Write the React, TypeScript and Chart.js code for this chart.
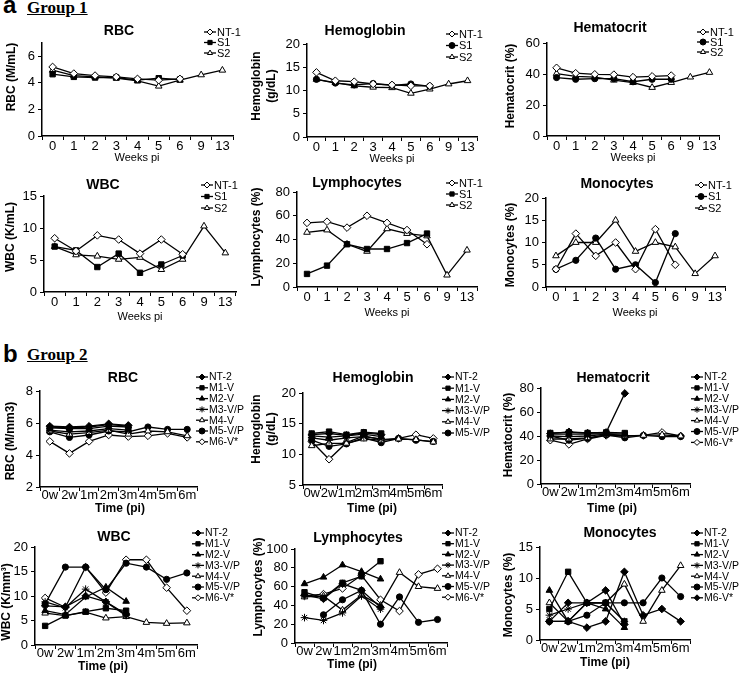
import React, { useEffect, useRef } from 'react';
import { Chart, registerables } from 'chart.js';
import { drawPoint } from 'chart.js/helpers';

Chart.register(...registerables);

const W = 744;
const H = 674;
const FONT = '"Liberation Sans", Arial, Helvetica, sans-serif';

// ---------------- Group 1 data ----------------
const weeks = ['0', '1', '2', '3', '4', '5', '6', '9', '13'];
const g1Names = ['NT-1', 'S1', 'S2'];

const rbc1NT = [5.2, 4.7, 4.55, 4.45, 4.3, 4.2, 4.3, null, null];
const rbc1S1 = [4.65, 4.45, 4.4, 4.4, 4.2, 4.35, 4.25, null, null];
const rbc1S2 = [4.95, 4.55, 4.45, 4.35, 4.15, 3.75, 4.2, 4.6, 4.95];

const hgb1NT = [13.9, 12.1, 11.9, 11.4, 11.2, 11.0, 11.0, null, null];
const hgb1S1 = [12.4, 11.6, 11.2, 11.5, 11.1, 11.4, 10.9, null, null];
const hgb1S2 = [12.4, 11.7, 11.0, 10.7, 10.6, 9.4, 10.3, 11.4, 12.1];

const hct1NT = [44, 40.5, 39.8, 39.6, 38, 38.5, 39, null, null];
const hct1S1 = [37.7, 36.6, 37, 37, 35, 36.6, 36.6, null, null];
const hct1S2 = [40.3, 38.5, 38, 36, 34.5, 31.3, 34.5, 38, 41];

const wbc1NT = [8.4, 6.4, 8.85, 8.2, 6.0, 8.2, 5.9, null, null];
const wbc1S1 = [7.1, 6.5, 3.9, 6.0, 3.0, 4.3, 5.7, null, null];
const wbc1S2 = [7.1, 5.8, 5.6, 5.1, 5.4, 3.5, 5.1, 10.3, 6.1];

const lym1NT = [54, 55, 50, 60, 54, 48, 36, null, null];
const lym1S1 = [11, 18, 36, 32, 32, 37, 45, null, null];
const lym1S2 = [46, 48, 36, 30, 49, 45, 43, 10, 31];

const mon1NT = [4, 12, 7, 10, 4, 13, 5, null, null];
const mon1S1 = [4, 6, 11, 4, 5, 1, 12, null, null];
const mon1S2 = [7, 10, 10, 15, 8, 10, 9, 3, 7];

// ---------------- Group 2 data ----------------
const times = ['0w', '2w', '1m', '2m', '3m', '4m', '5m', '6m'];
const g2Names = ['NT-2', 'M1-V', 'M2-V', 'M3-V/P', 'M4-V', 'M5-V/P', 'M6-V*'];

const rbc2NT = [5.8, 5.75, 5.8, 5.95, 5.85, null, null, null];
const rbc2M1 = [5.7, 5.65, 5.65, 5.8, 5.75, null, null, null];
const rbc2M2 = [5.75, 5.7, 5.75, 5.9, 5.8, null, null, null];
const rbc2M3 = [5.55, 5.45, 5.5, 5.65, 5.55, null, null, null];
const rbc2M4 = [5.5, 5.3, 5.4, 5.55, 5.3, 5.5, 5.45, 5.2];
const rbc2M5 = [5.45, 5.1, 5.25, 5.5, 5.45, 5.75, 5.6, 5.6];
const rbc2M6 = [4.85, 4.1, 4.85, 5.25, 5.15, 5.2, 5.35, 5.1];

const hgb2NT = [13.2, 13.4, 13.1, 13.5, 13.2, null, null, null];
const hgb2M1 = [13.4, 13.7, 13.2, 13.6, 13.4, null, null, null];
const hgb2M2 = [13.0, 12.8, 13.0, 13.3, 12.9, null, null, null];
const hgb2M3 = [12.7, 12.3, 12.7, 12.9, 12.5, null, null, null];
const hgb2M4 = [11.4, 11.8, 11.8, 12.5, 12.3, 12.5, 12.4, 12.0];
const hgb2M5 = [12.3, 11.3, 11.7, 12.7, 11.9, 12.6, 12.3, 12.1];
const hgb2M6 = [12.1, 9.2, 11.9, 13.0, 12.4, 12.6, 13.2, 12.6];

const hct2NT = [42, 43.5, 42.5, 43, 75.5, null, null, null];
const hct2M1 = [42.5, 43, 42.5, 43, 42.5, null, null, null];
const hct2M2 = [41.5, 41.5, 41.5, 42, 41.5, null, null, null];
const hct2M3 = [40, 39.5, 40, 41.5, 40.5, null, null, null];
const hct2M4 = [37.5, 37.5, 38.5, 41, 40, 40.5, 41, 40];
const hct2M5 = [40, 36.5, 38, 41, 38.5, 40.5, 39.5, 39.5];
const hct2M6 = [36.5, 33, 37.5, 40.5, 40, 40.5, 43, 40];

const wbc2NT = [8.0, 7.8, 10.0, 8.8, 6.3, null, null, null];
const wbc2M1 = [3.9, 6.0, 6.8, 7.5, 7.0, null, null, null];
const wbc2M2 = [7.0, 6.2, 9.8, 11.8, 8.9, null, null, null];
const wbc2M3 = [8.8, 7.6, 11.4, 8.8, 6.0, null, null, null];
const wbc2M4 = [6.5, 6.0, 6.7, 5.5, 5.8, 4.6, 4.4, 4.5];
const wbc2M5 = [8.4, 15.9, 15.9, 11.3, 16.7, 15.9, 13.4, 14.7];
const wbc2M6 = [9.6, 7.7, 15.9, 10.7, 17.4, 17.4, 11.7, 7.0];

const lym2NT = [51, 47, 63, 56, 38, null, null, null];
const lym2M1 = [54, 48, 64, 71, 87, null, null, null];
const lym2M2 = [63, 70, 83, 76, 68, null, null, null];
const lym2M3 = [27, 24, 32, 50, 36, null, null, null];
const lym2M4 = [49, 50, 35, 51, 40, 75, 60, 58];
const lym2M5 = [null, 30, 46, 56, 20, 49, 22, 25];
const lym2M6 = [50, 52, 58, 72, 46, 34, 73, 79];

const mon2NT = [3, 6, 6, 8, 2.5, null, null, null];
const mon2M1 = [5, 11, 6, 6, 3, null, null, null];
const mon2M2 = [8, 3, 6, 5, 2, null, null, null];
const mon2M3 = [4, 5, 6, 6, 3, null, null, null];
const mon2M4 = [6, 3, 6, 6, 9, 3, 8, 12];
const mon2M5 = [3, 3, 4, 6, 6, 6, 10, 7];
const mon2M6 = [3, 3, 2, 3, 11, 4, 5, 3];

// ---------------- styles ----------------
type Mk = { style: string; fill: boolean; r?: number };
const OD: Mk = { style: 'rectRot', fill: false, r: 3.8 };
const FD: Mk = { style: 'rectRot', fill: true, r: 3.8 };
const FC: Mk = { style: 'circle', fill: true, r: 3.1 };
const FS: Mk = { style: 'rect', fill: true, r: 3.8 };
const OT: Mk = { style: 'triangle', fill: false, r: 3.8 };
const FT: Mk = { style: 'triangle', fill: true, r: 3.8 };
const ST: Mk = { style: 'star', fill: false, r: 3.8 };

const g1MarksA: Mk[] = [OD, FS, OT];
const g1MarksB: Mk[] = [OD, FC, OT];
const g2Marks: Mk[] = [FD, FS, FT, ST, OT, FC, OD];
const g2MarksMono: Mk[] = [FD, FS, FT, ST, OT, FC, FD];

interface Spec {
  labels: string[];
  names: string[];
  series: (number | null)[][];
  marks: Mk[];
  y: [number, number, number];
  area: [number, number, number, number];
  title: [string, number, number];
  yTitle: { lines: string[]; x: number[]; y: number };
  xTitle: { text: string; x: number; y: number; bold: boolean; size: number };
  legend: { x: number; y: number; dy: number; n?: number; size: number };
  tickPad: number;
}

const wk = (x: number, y: number) => ({ text: 'Weeks pi', x, y, bold: false, size: 11 });
const tm = (x: number, y: number) => ({ text: 'Time (pi)', x, y, bold: true, size: 12 });

const PANELS: Spec[] = [
  {
    labels: weeks, names: g1Names, series: [rbc1NT, rbc1S1, rbc1S2], marks: g1MarksA,
    y: [0, 7, 1], area: [42, 43, 233, 136], title: ['RBC', 119, 31],
    yTitle: { lines: ['RBC (M/mL)'], x: [12], y: 77 }, xTitle: wk(137, 158),
    legend: { x: 210, y: 32, dy: 10.5, size: 11 }, tickPad: -1,
  },
  {
    labels: weeks, names: g1Names, series: [hgb1NT, hgb1S1, hgb1S2], marks: g1MarksB,
    y: [0, 20, 5], area: [307, 44, 477, 137], title: ['Hemoglobin', 365, 31.5],
    yTitle: { lines: ['Hemoglobin', '(g/dL)'], x: [257, 272], y: 86 }, xTitle: wk(392, 159),
    legend: { x: 452, y: 34, dy: 11.5, size: 11 }, tickPad: -1,
  },
  {
    labels: weeks, names: g1Names, series: [hct1NT, hct1S1, hct1S2], marks: g1MarksB,
    y: [0, 60, 10], area: [547, 43, 719, 136], title: ['Hematocrit', 610, 28],
    yTitle: { lines: ['Hematocrit (%)'], x: [511], y: 86 }, xTitle: wk(633, 158),
    legend: { x: 703, y: 32, dy: 10, size: 11 }, tickPad: -1,
  },
  {
    labels: weeks, names: g1Names, series: [wbc1NT, wbc1S1, wbc1S2], marks: g1MarksA,
    y: [0, 15, 5], area: [44, 196, 236, 292], title: ['WBC', 103, 185],
    yTitle: { lines: ['WBC (K/mL)'], x: [11], y: 237 }, xTitle: wk(140, 317),
    legend: { x: 207, y: 185, dy: 11.5, size: 11 }, tickPad: -1,
  },
  {
    labels: weeks, names: g1Names, series: [lym1NT, lym1S1, lym1S2], marks: g1MarksA,
    y: [0, 80, 20], area: [297, 192, 477, 287], title: ['Lymphocytes', 357, 183],
    yTitle: { lines: ['Lymphocytes (%)'], x: [257], y: 237 }, xTitle: wk(387, 313),
    legend: { x: 452, y: 183, dy: 11, size: 11 }, tickPad: -1,
  },
  {
    labels: weeks, names: g1Names, series: [mon1NT, mon1S1, mon1S2], marks: g1MarksB,
    y: [0, 20, 5], area: [546, 198, 725, 287], title: ['Monocytes', 617, 184],
    yTitle: { lines: ['Monocytes (%)'], x: [511], y: 245 }, xTitle: wk(635, 313),
    legend: { x: 701, y: 185, dy: 11.5, size: 11 }, tickPad: -1,
  },
  {
    labels: times, names: g2Names, series: [rbc2NT, rbc2M1, rbc2M2, rbc2M3, rbc2M4, rbc2M5, rbc2M6], marks: g2Marks,
    y: [2, 8, 2], area: [40, 391, 197, 487], title: ['RBC', 123, 378],
    yTitle: { lines: ['RBC (M/mm3)'], x: [11], y: 441 }, xTitle: tm(120, 509),
    legend: { x: 202, y: 377, dy: 10.8, size: 10.5 }, tickPad: -3,
  },
  {
    labels: times, names: g2Names, series: [hgb2NT, hgb2M1, hgb2M2, hgb2M3, hgb2M4, hgb2M5, hgb2M6], marks: g2Marks,
    y: [5, 20, 5], area: [303, 393, 442, 485], title: ['Hemoglobin', 373, 378],
    yTitle: { lines: ['Hemoglobin', '(g/dL)'], x: [257, 272], y: 429 }, xTitle: tm(372, 509),
    legend: { x: 448, y: 377, dy: 11.2, n: 6, size: 10.5 }, tickPad: -3,
  },
  {
    labels: times, names: g2Names, series: [hct2NT, hct2M1, hct2M2, hct2M3, hct2M4, hct2M5, hct2M6], marks: g2Marks,
    y: [0, 80, 20], area: [541, 388, 690, 484], title: ['Hematocrit', 613, 378],
    yTitle: { lines: ['Hematocrit (%)'], x: [509], y: 435 }, xTitle: tm(612, 509),
    legend: { x: 697, y: 377, dy: 10.9, size: 10.5 }, tickPad: -3,
  },
  {
    labels: times, names: g2Names, series: [wbc2NT, wbc2M1, wbc2M2, wbc2M3, wbc2M4, wbc2M5, wbc2M6], marks: g2Marks,
    y: [0, 20, 5], area: [35, 547, 197, 645], title: ['WBC', 114, 537],
    yTitle: { lines: ['WBC (K/mm\u00b3)'], x: [7], y: 602 }, xTitle: tm(103, 667),
    legend: { x: 198, y: 533, dy: 10.8, size: 10.5 }, tickPad: -3,
  },
  {
    labels: times, names: g2Names, series: [lym2NT, lym2M1, lym2M2, lym2M3, lym2M4, lym2M5, lym2M6], marks: g2Marks,
    y: [0, 100, 20], area: [295, 549, 447, 643], title: ['Lymphocytes', 358, 538],
    yTitle: { lines: ['Lymphocytes (%)'], x: [259], y: 587 }, xTitle: tm(352, 665),
    legend: { x: 448, y: 533, dy: 10.7, size: 10.5 }, tickPad: -3,
  },
  {
    labels: times, names: g2Names, series: [mon2NT, mon2M1, mon2M2, mon2M3, mon2M4, mon2M5, mon2M6], marks: g2MarksMono,
    y: [0, 15, 5], area: [540, 547, 690, 640], title: ['Monocytes', 620, 533],
    yTitle: { lines: ['Monocytes (%)'], x: [509], y: 595 }, xTitle: tm(605, 663),
    legend: { x: 697, y: 533, dy: 10.8, size: 10.5 }, tickPad: -3,
  },
];

function makeAnnot(p: Spec) {
  return {
    id: 'annot',
    afterDraw(chart: any) {
      const ctx: CanvasRenderingContext2D = chart.ctx;
      ctx.save();
      ctx.fillStyle = '#000';
      ctx.strokeStyle = '#000';
      ctx.textBaseline = 'middle';
      ctx.textAlign = 'center';
      ctx.font = `bold 14px ${FONT}`;
      ctx.fillText(p.title[0], p.title[1], p.title[2]);

      ctx.font = `${p.xTitle.bold ? 'bold ' : ''}${p.xTitle.size}px ${FONT}`;
      ctx.fillText(p.xTitle.text, p.xTitle.x, p.xTitle.y);

      ctx.font = `bold 12px ${FONT}`;
      p.yTitle.lines.forEach((ln, k) => {
        ctx.save();
        ctx.translate(p.yTitle.x[k], p.yTitle.y);
        ctx.rotate(-Math.PI / 2);
        ctx.fillText(ln, 0, 0);
        ctx.restore();
      });

      ctx.font = `${p.legend.size}px ${FONT}`;
      ctx.textAlign = 'left';
      const n = p.legend.n ?? p.names.length;
      for (let i = 0; i < n; i++) {
        const y = p.legend.y + i * p.legend.dy;
        const x = p.legend.x;
        ctx.strokeStyle = '#000';
        ctx.lineWidth = 1.3;
        ctx.beginPath();
        ctx.moveTo(x - 6, y);
        ctx.lineTo(x + 6, y);
        ctx.stroke();
        ctx.fillStyle = p.marks[i].fill ? '#000' : '#fff';
        ctx.lineWidth = 1;
        drawPoint(ctx, { pointStyle: p.marks[i].style as any, radius: 3, rotation: 0, borderWidth: 1 } as any, x, y);
        ctx.fillStyle = '#000';
        ctx.fillText(p.names[i], x + 7, y + 0.5);
      }
      ctx.restore();
    },
  };
}

function makeConfig(p: Spec): any {
  const [l, t, r, b] = p.area;
  const YW = 30;
  const XH = 20;
  return {
    type: 'line',
    data: {
      labels: p.labels,
      datasets: p.series.map((d, i) => ({
        label: p.names[i],
        data: d,
        borderColor: '#000',
        borderWidth: 1.3,
        tension: 0,
        spanGaps: false,
        fill: false,
        pointStyle: p.marks[i].style,
        pointRadius: p.marks[i].r ?? 3.4,
        pointBackgroundColor: p.marks[i].fill ? '#000' : '#fff',
        pointBorderColor: '#000',
        pointBorderWidth: 1,
      })),
    },
    options: {
      responsive: false,
      animation: false,
      devicePixelRatio: 1,
      events: [],
      layout: { padding: { left: l - YW, top: t, right: W - r, bottom: H - b - XH } },
      plugins: { legend: { display: false }, title: { display: false }, tooltip: { enabled: false } },
      scales: {
        x: {
          type: 'category',
          offset: true,
          grid: { display: true, offset: true, drawOnChartArea: false, drawTicks: true, tickLength: 4, color: '#000', lineWidth: 1 },
          border: { display: true, color: '#000', width: 1.5 },
          ticks: { color: '#000', font: { family: FONT, size: 13 }, padding: p.tickPad, maxRotation: 0, minRotation: 0, autoSkip: false },
          afterFit: (s: any) => { s.height = XH; },
        },
        y: {
          min: p.y[0],
          max: p.y[1],
          grid: { display: true, drawOnChartArea: false, drawTicks: true, tickLength: 4, color: '#000', lineWidth: 1 },
          border: { display: true, color: '#000', width: 1.5 },
          ticks: { stepSize: p.y[2], color: '#000', font: { family: FONT, size: 13 }, padding: 3 },
          afterFit: (s: any) => { s.width = YW; },
        },
      },
    },
    plugins: [makeAnnot(p)],
  };
}

function Panel({ spec }: { spec: Spec }) {
  const ref = useRef<HTMLCanvasElement>(null);
  useEffect(() => {
    const c = new Chart(ref.current as HTMLCanvasElement, makeConfig(spec));
    return () => c.destroy();
  }, [spec]);
  return (
    <canvas
      ref={ref}
      width={W}
      height={H}
      style={{ position: 'absolute', left: 0, top: 0, width: W, height: H }}
    />
  );
}

const letterStyle: React.CSSProperties = {
  position: 'absolute',
  fontFamily: FONT,
  fontWeight: 'bold',
  fontSize: 24,
  lineHeight: '24px',
  color: '#000',
};
const groupStyle: React.CSSProperties = {
  position: 'absolute',
  fontFamily: '"Liberation Serif", "Times New Roman", serif',
  fontWeight: 'bold',
  fontSize: 17,
  lineHeight: '17px',
  textDecoration: 'underline',
  color: '#000',
  whiteSpace: 'nowrap',
};

export default function App() {
  return (
    <div style={{ position: 'absolute', left: 0, top: 0, width: W, height: H, background: '#fff', overflow: 'hidden' }}>
      <div style={{ ...letterStyle, left: 3, top: -7 }}>a</div>
      <div style={{ ...groupStyle, left: 27, top: -1 }}>Group 1</div>
      <div style={{ ...letterStyle, left: 3, top: 342 }}>b</div>
      <div style={{ ...groupStyle, left: 27, top: 346 }}>Group 2</div>
      {PANELS.map((p, i) => (
        <Panel key={i} spec={p} />
      ))}
    </div>
  );
}
